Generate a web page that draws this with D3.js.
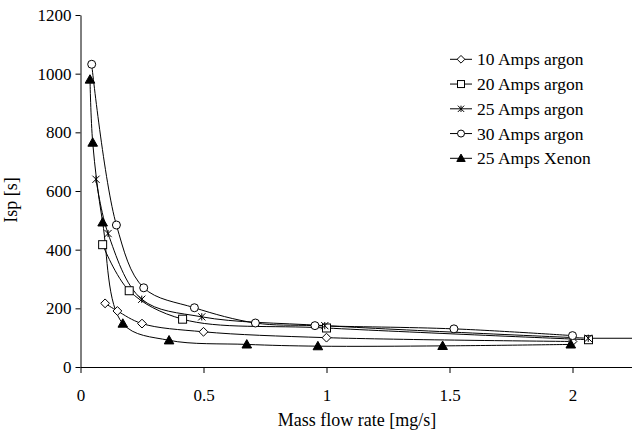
<!DOCTYPE html>
<html>
<head>
<meta charset="utf-8">
<script src="https://cdn.jsdelivr.net/npm/d3@7"></script>
<style>
  body { margin: 0; background: #fff; }
  svg text { font-family: "Liberation Serif", "Times New Roman", "DejaVu Serif", serif; fill: #000; }
</style>
</head>
<body>
<div id="plot"></div>
<script>
// values
var flow10 = [0.10, 0.15, 0.25, 0.50, 1.00, 2.00]
var isp10  = [217, 191, 148, 120, 100, 87]

var flow20 = [0.09, 0.198, 0.415, 1.00, 2.065]
var isp20  = [417, 260, 163, 133, 93]

var flow25 = [0.063, 0.112, 0.249, 0.493, 0.993, 2.064]
var isp25  = [640, 455, 231, 171, 141, 98]

var flow30 = [0.0455, 0.146, 0.257, 0.463, 0.711, 0.953, 1.518, 2.00]
var isp30  = [1032, 484, 270, 202, 150, 141, 130, 107]

var flowXe = [0.0386, 0.0496, 0.09, 0.172, 0.36, 0.676, 0.965, 1.472, 1.993]
var ispXe  = [980, 765, 493, 148, 91, 77, 71, 72, 77]

// flat line running out to the right edge
var tailFlow = [2.065, 2.25]
var tailIsp  = [98, 98]

var seriesNames = ['10 Amps argon', '20 Amps argon', '25 Amps argon', '30 Amps argon', '25 Amps Xenon']
var markerTypes = ['diamond', 'square', 'star', 'circle', 'triangle']

var xTicks = [0, 0.5, 1, 1.5, 2]
var yTicks = [0, 200, 400, 600, 800, 1000, 1200]

var width = 632, height = 433
var serif = '"Liberation Serif", "Times New Roman", serif'

var svg = d3.select("#plot")
  .append("svg")
  .attr("width", width)
  .attr("height", height)

var xScale = d3.scaleLinear()
  .domain([0, 2.25])
  .range([80.5, 634])

var yScale = d3.scaleLinear()
  .domain([0, 1200])
  .range([367, 15])

// axes
svg.append("g")
  .attr("transform", "translate(0," + yScale(0) + ")")
  .call(d3.axisBottom(xScale).tickValues(xTicks).tickFormat(d => String(d)).tickSize(6).tickSizeOuter(0).tickPadding(16))
  .attr("font-family", serif)
  .attr("font-size", 17)

svg.append("g")
  .attr("transform", "translate(" + xScale(0) + ",0)")
  .call(d3.axisLeft(yScale).tickValues(yTicks).tickFormat(d => String(d)).tickSize(5).tickSizeOuter(0).tickPadding(4))
  .attr("font-family", serif)
  .attr("font-size", 17)

svg.selectAll(".domain, .tick line").attr("stroke", "#000")

svg.append("text")
  .attr("x", 357)
  .attr("y", 426)
  .attr("text-anchor", "middle")
  .style("font-size", "18px")
  .text("Mass flow rate [mg/s]")

svg.append("text")
  .attr("transform", "translate(17,200) rotate(-90)")
  .attr("text-anchor", "middle")
  .style("font-size", "18px")
  .text("Isp [s]")

var series = [
  { x: flow10, y: isp10 },
  { x: flow20, y: isp20 },
  { x: flow25, y: isp25 },
  { x: flow30, y: isp30 },
  { x: flowXe, y: ispXe }
]

var line = d3.line()
  .x(d => xScale(d[0]))
  .y(d => yScale(d[1]))
  .curve(d3.curveCatmullRom.alpha(0.5))

series.forEach(s => {
  svg.append("path")
    .datum(s.x.map((v, i) => [v, s.y[i]]))
    .attr("d", line)
    .attr("fill", "none")
    .attr("stroke", "#000")
    .attr("stroke-width", 1)
})

svg.append("path")
  .datum(tailFlow.map((v, i) => [v, tailIsp[i]]))
  .attr("d", line)
  .attr("fill", "none")
  .attr("stroke", "#000")
  .attr("stroke-width", 1)

var drawMarker = function (g, type, cx, cy, s) {
  if (type == 'circle') {
    g.append("circle").attr("cx", cx).attr("cy", cy).attr("r", s * 0.5)
      .attr("fill", "#fff").attr("stroke", "#000")
  } else if (type == 'square') {
    g.append("rect").attr("x", cx - s / 2).attr("y", cy - s / 2).attr("width", s).attr("height", s)
      .attr("fill", "#fff").attr("stroke", "#000")
  } else if (type == 'diamond') {
    var h = s * 0.55
    g.append("path")
      .attr("d", "M" + cx + "," + (cy - h) + "L" + (cx + h) + "," + cy + "L" + cx + "," + (cy + h) + "L" + (cx - h) + "," + cy + "Z")
      .attr("fill", "#fff").attr("stroke", "#000")
  } else if (type == 'triangle') {
    var h = s * 0.6
    g.append("path")
      .attr("d", "M" + cx + "," + (cy - h) + "L" + (cx + h) + "," + (cy + h * 0.75) + "L" + (cx - h) + "," + (cy + h * 0.75) + "Z")
      .attr("fill", "#000").attr("stroke", "#000")
  } else if (type == 'star') {
    var h = s * 0.45
    g.append("path")
      .attr("d", "M" + (cx - h) + "," + (cy - h) + "L" + (cx + h) + "," + (cy + h) +
        "M" + (cx + h) + "," + (cy - h) + "L" + (cx - h) + "," + (cy + h) +
        "M" + cx + "," + (cy - h) + "L" + cx + "," + (cy + h))
      .attr("fill", "none").attr("stroke", "#000")
  }
}

var markers = svg.append("g")
series.forEach((s, k) => {
  s.x.forEach((v, i) => drawMarker(markers, markerTypes[k], xScale(v), yScale(s.y[i]), 8))
})

// legend
var legend = svg.append("g")
seriesNames.forEach((name, i) => {
  var ly = 59.3 + i * 24.75
  legend.append("line")
    .attr("x1", 450).attr("x2", 472).attr("y1", ly).attr("y2", ly)
    .attr("stroke", "#000")
  drawMarker(legend, markerTypes[i], 461, ly, 7)
  legend.append("text")
    .attr("x", 477)
    .attr("y", ly)
    .attr("dy", "0.35em")
    .style("font-size", "17.5px")
    .text(name)
})
</script>
</body>
</html>
